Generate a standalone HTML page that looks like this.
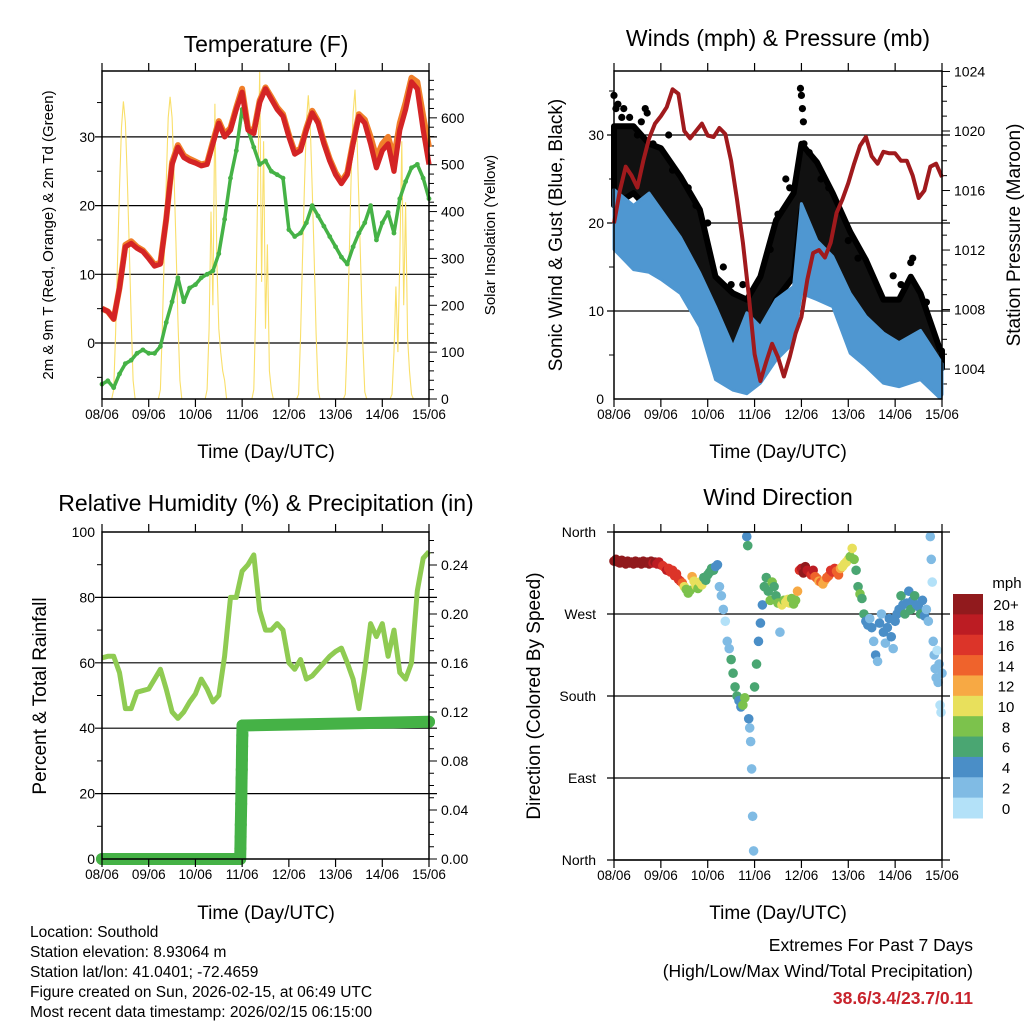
<!DOCTYPE html>
<html><head><meta charset="utf-8"><style>
html,body{margin:0;padding:0;background:#fff}
svg{display:block;font-family:"Liberation Sans",sans-serif}
</style></head><body>
<svg id="c" width="1024" height="1024" viewBox="0 0 1024 1024" xmlns="http://www.w3.org/2000/svg">
<rect width="1024" height="1024" fill="#fff"/>
<g id="g"></g>
<g font-size="23" text-anchor="middle" fill="#000">
<text x="266" y="52">Temperature (F)</text>
<text x="778" y="46">Winds (mph) &amp; Pressure (mb)</text>
<text x="266" y="511">Relative Humidity (%) &amp; Precipitation (in)</text>
<text x="778" y="505">Wind Direction</text>
</g>
<g font-size="19" text-anchor="middle">
<text x="266" y="458">Time (Day/UTC)</text>
<text x="778" y="458">Time (Day/UTC)</text>
<text x="266" y="919">Time (Day/UTC)</text>
<text x="778" y="919">Time (Day/UTC)</text>
<text font-size="15" transform="translate(53,235) rotate(-90)">2m &amp; 9m T (Red, Orange) &amp; 2m Td (Green)</text>
<text font-size="15" transform="translate(495,235) rotate(-90)">Solar Insolation (Yellow)</text>
<text transform="translate(562,235) rotate(-90)">Sonic Wind &amp; Gust (Blue, Black)</text>
<text transform="translate(1020,235) rotate(-90)">Station Pressure (Maroon)</text>
<text transform="translate(46,696) rotate(-90)">Percent &amp; Total Rainfall</text>
<text transform="translate(540,696) rotate(-90)">Direction (Colored By Speed)</text>
</g>
<g font-size="15.5">
<text x="30" y="937">Location: Southold</text>
<text x="30" y="957">Station elevation: 8.93064 m</text>
<text x="30" y="977">Station lat/lon: 41.0401; -72.4659</text>
<text x="30" y="997">Figure created on Sun, 2026-02-15, at 06:49 UTC</text>
<text x="30" y="1017">Most recent data timestamp: 2026/02/15 06:15:00</text>
</g>
<g text-anchor="end" font-size="17.5">
<text x="973" y="951">Extremes For Past 7 Days</text>
<text x="973" y="977">(High/Low/Max Wind/Total Precipitation)</text>
<text x="973" y="1004" fill="#c8232c" font-weight="bold">38.6/3.4/23.7/0.11</text>
</g>
</svg>
<script>
// ---- data ----
const dayLabels=["08/06","09/06","10/06","11/06","12/06","13/06","14/06","15/06"];
const t3=[0,3,6,9,12,15,18,21,24,27,30,33,36,39,42,45,48,51,54,57,60,63,66,69,72,75,78,81,84,87,90,93,96,99,102,105,108,111,114,117,120,123,126,129,132,135,138,141,144,147,150,153,156,159,162,165,168];
const tempRed=[5,4.6,3.5,8,14,14.5,13.8,13.3,12.3,11.2,11.5,18,26,28.5,27,26.5,26.2,25.8,26,29,32,30,31,34,36.5,31,30.5,35,37,35.5,34,33,30,27.5,28,31,33.5,32,29,26.5,24.5,23.2,24.5,29,33,32,29,25.5,28,29,25,31,34,38,37,31,26];
const tempOrange=[5,4.6,3.5,8,14.3,14.8,14,13.5,12.5,11.4,11.7,18,26.3,28.8,27.3,26.8,26.4,26,26.2,29.3,32.3,30.4,31.3,34.3,37,31.3,30.8,35.3,37.2,35.8,34.3,33.3,30.3,27.8,28.3,31.3,33.8,32.3,29.3,26.8,24.8,23.5,24.8,29.3,33.3,32.5,30,27,29,30,27,32,35,38.6,38,33,28.5];
const dewpoint=[-6,-5.5,-6.5,-4.5,-3,-2.5,-1.5,-1,-1.5,-1.5,-0.5,3,6,9.5,6,8,8.5,9.5,10,10.5,13,18,24,28,34,31,28.5,26,26.5,25,24.5,24,16.5,15.5,16,17.5,20,18.5,17,15.5,14,12.5,11.5,14,16,17.5,20,15,17.5,19,16,21,23.5,25.5,26,24,21];
const solarHourly=[0,0,0,0,0,0,20,140,300,450,580,635,590,470,320,170,40,0,0,0,0,0,0,0,
0,0,0,0,0,0,20,150,310,460,600,645,600,480,330,170,40,0,0,0,0,0,0,0,
0,0,0,0,0,0,20,150,400,200,630,300,150,100,60,40,0,0,0,0,0,0,0,0,
0,0,0,0,0,0,20,200,450,698,250,550,150,330,60,20,0,0,0,0,0,0,0,0,
0,0,0,0,0,10,130,300,450,590,648,580,450,300,140,20,0,0,0,0,0,0,0,0,
0,0,0,0,0,10,130,300,470,610,660,560,420,270,120,15,0,0,0,0,0,0,0,0,
0,0,0,0,0,10,100,240,100,300,550,200,420,130,60,10,0,0,0,0,0,0,0,0,0];
const windT=[0,10,18,24,34,44,52,61,68,75,83,92,96,104,112,121,129,138,146,157,167,168];
const windHi=[23.8,22,23.4,21.5,18.4,14.3,10.5,5.9,9.8,8.2,11.3,12.8,22.2,18,16.2,12,9.4,7.5,6.4,7.8,4.4,4];
const windLo=[17,14.7,14.4,13.6,12,8.2,2.2,1,0.6,1.8,4.4,6.4,12,11.3,10.5,5.2,3.7,1.8,1.4,2.2,0.1,0.5];
const gustT=[0,10,18,24,34,44,52,61,68,75,83,92,96,104,112,121,129,138,146,152,157,167,168];
const gustHi=[31,31,29,28.5,25.3,21.5,13.9,12,11.3,13.9,20.3,23.4,29,26.9,23.4,19,15.8,11.3,11.3,13.9,12,5.6,5.5];
const gustLo=[22,23.4,21.5,19.6,17,13.9,5.9,5.2,4.4,7.1,11.3,13.9,21.5,17.3,15.1,11.3,8.2,4.4,5.2,5.5,5.2,3.7,3.5];
const gustOutT=[0,1,2,4,5,8,12,14,16,17,20,28,30,38,42,48,56,60,66,80,84,88,90,95.5,96,96.5,97,97.3,100,106,110,120,125,143,147,152,153,160];
const gustOutV=[34.5,33,33.5,32,33,32,30,31.5,33,32.5,29,30,26,24,22,20,15,13,13,17,21,25,24,35.3,34.5,33,31.5,29,28,25,24,18,16,14,13,15.5,16,11];
const pressure=[1013.8,1016,1017.6,1017,1016.2,1018,1019.5,1020.5,1021,1021.6,1022.8,1022.5,1020,1019.5,1020,1020.5,1019.7,1019.6,1020.2,1019.8,1018,1015.4,1012.5,1009,1005,1003.2,1004.5,1005.7,1004.8,1003.5,1004.8,1006.4,1007.5,1010,1011.8,1012,1011.5,1012.5,1014.5,1015.4,1016.5,1017.8,1019,1019.6,1018.3,1017.8,1018.6,1018.5,1018.5,1018,1018,1017,1015.5,1016,1017.6,1017.8,1016.9];
const rh=[61.5,62,62,57,46,46,51,51.5,52,55,58,52,45,43,45,48,50.5,55,52,48,50,62,80,80,88,90,93,76,70,70,72,70,60,58,61,55,56,58,60,62,63.5,64.5,60,55,46,58,72,68,72,62,70,57,55,60,82,92,94];
const precipT=[0,71,71.1,71.2,71.3,71.4,71.5,71.6,71.7,71.8,71.9,72,72.1,72.2,168];
const precipV=[0,0,0.0087,0.018,0.028,0.036,0.045,0.055,0.066,0.073,0.081,0.092,0.101,0.109,0.112];
const dirT=[0,1,2,3,4,5,6,7,8,9,10,11,12,13,14,15,16,17,18,19,20,21,22,23,24,25,26,27,28,29,30,31,32,33,34,35,36,37,38,39,40,41,42,43,44,45,46,47,48,49,50,51,52,53,54,55,56,57,58,59,60,61,62,63,64,65,66,67,68,68.5,69,69.5,70,70.5,71,71.5,72,73,74,75,76,77,78,79,80,81,82,83,84,85,86,87,88,89,90,91,92,93,94,95,96,97,98,99,100,101,102,103,104,105,106,107,108,109,110,111,112,113,114,115,116,117,118,119,120,121,122,123,124,125,126,127,128,129,130,131,132,133,134,135,136,137,138,139,140,141,142,143,144,145,146,147,148,149,150,151,152,153,154,155,156,157,158,159,160,161,162,162.5,163,163.5,164,164.5,165,165.5,166,166.5,167,167.5,168];
const dirDeg=[328,330,327,326,329,327,325,328,326,327,325,328,326,327,325,328,326,327,325,328,326,327,325,327,324,323,321,318,320,316,318,312,314,308,306,304,300,297,293,296,311,306,301,298,305,302,310,307,313,316,320,318,322,324,300,290,275,262,240,232,220,205,190,180,175,168,170,178,355,345,155,145,130,100,48,10,190,215,240,260,280,300,310,295,285,305,300,290,282,250,280,285,283,286,282,287,281,285,295,318,320,315,322,318,316,313,318,311,309,306,305,303,307,310,312,318,316,320,317,313,320,322,325,327,330,333,342,330,318,300,292,287,270,262,258,265,255,240,225,218,260,270,250,238,255,265,245,232,262,270,275,290,280,270,282,295,275,285,290,280,278,270,285,268,275,262,355,330,305,240,225,210,200,230,195,215,170,162,205];
const dirSpd=[22,21,22,21,22,20,21,22,21,20,22,21,20,21,22,20,21,20,21,20,19,20,18,18,18,17,17,18,16,17,16,17,16,17,16,15,10,9,8,9,13,10,11,8,10,11,7,6,6,6,6,6,5,4,3,2,2,1,2,2,6,6,7,7,5,4,8,9,5,7,4,3,3,2,2,3,6,7,4,4,5,6,6,7,8,8,6,7,8,3,10,9,10,11,10,9,8,9,12,17,19,20,20,19,18,17,18,15,14,13,14,13,12,14,15,16,17,16,15,14,12,11,10,10,10,9,10,8,7,6,8,6,6,5,4,3,4,3,4,3,4,3,4,3,4,4,4,3,4,5,4,6,4,7,4,5,6,4,6,4,5,6,4,4,3,2,2,2,1,3,2,2,2,1,2,2,0,0,2];
const speedBins=["0","2","4","6","8","10","12","14","16","18","20+"];
const speedColors=["#b3e1f8","#80bbe4","#4a8ec7","#4aa672","#7cc24c","#e8e05c","#f7a944","#ef632c","#dc3429","#bc1c23","#911a1d"];

// ---- helpers ----
const NS="http://www.w3.org/2000/svg";
const G=document.getElementById('g');
function mk(tag,attrs,parent){const e=document.createElementNS(NS,tag);for(const k in attrs)e.setAttribute(k,attrs[k]);(parent||G).appendChild(e);return e;}
function txt(x,y,s,anchor,size,parent){const e=mk('text',{x:x,y:y,'text-anchor':anchor,'font-size':size},parent);e.textContent=s;return e;}
function pts(xs,ys,fx,fy){return xs.map((t,i)=>fx(t).toFixed(1)+','+fy(ys[i]).toFixed(1)).join(' ');}

function panel(name){
  const g=mk('g',{});
  
  
  return g;
}
function frame(g,L,R,T,B){
  mk('rect',{x:L,y:T,width:R-L,height:B-T,fill:'none',stroke:'#000','stroke-width':1.5},g);
  const xs=h=>L+h*(R-L)/168;
  for(let d=0;d<8;d++){const x=xs(d*24);
    mk('line',{x1:x,y1:T,x2:x,y2:T-8,stroke:'#000','stroke-width':1.2},g);
    mk('line',{x1:x,y1:B,x2:x,y2:B+8,stroke:'#000','stroke-width':1.2},g);
    const lab=txt(x,B+20,dayLabels[d],'middle',13.5,g);
    
    
  }
}
function gridline(g,L,R,y){mk('line',{x1:L-7,y1:y,x2:R+8,y2:y,stroke:'#000','stroke-width':1.2},g);}

// ===== Temperature panel =====
{
 const L=102,R=429,T=71,B=399;
 const g=panel('temperature-panel');
 const x=h=>L+h*(R-L)/168, y=v=>343-v*6.87, ys=v=>B-v*0.4686;
 [0,10,20,30].forEach(v=>{gridline(g,L,R,y(v));const l=txt(L-7,y(v)+5,String(v),'end',14,g);});
 [-5,5,15,25,35].forEach(v=>mk('line',{x1:L,y1:y(v),x2:L-5,y2:y(v),stroke:'#000'},g));
 for(let v=0;v<=700;v+=20){const yy=ys(v);if(yy<T)break;mk('line',{x1:R,y1:yy,x2:R+(v%100==0?8:5),y2:yy,stroke:'#000'},g);}
 [0,100,200,300,400,500,600].forEach(v=>{const l=txt(R+12,ys(v)+5,String(v),'start',14,g);});
 const sx=solarHourly.map((v,i)=>i);
 const sol=mk('polyline',{points:pts(sx,solarHourly,x,ys),fill:'none',stroke:'#f9df6a','stroke-width':1.1},g);
 
 const dp=mk('polyline',{points:pts(t3,dewpoint,x,y),fill:'none',stroke:'#45b246','stroke-width':3.5,'stroke-linejoin':'round'},g);
 
 t3.forEach((t,i)=>{const c=mk('circle',{cx:x(t),cy:y(dewpoint[i]),r:2.4,fill:'#45b246'},g);});
 const o=mk('polyline',{points:pts(t3,tempOrange,x,y),fill:'none',stroke:'#f07f2a','stroke-width':6,'stroke-linejoin':'round'},g);
 
 const r=mk('polyline',{points:pts(t3,tempRed,x,y),fill:'none',stroke:'#d42425','stroke-width':5.2,'stroke-linejoin':'round'},g);
 
 frame(g,L,R,T,B);
}
// ===== Wind panel =====
{
 const L=614,R=942,T=71,B=399;
 const g=panel('wind-panel');
 const x=h=>L+h*(R-L)/168, y=v=>B-v*8.8, yp=p=>131+(1020-p)*14.88;
 [0,10,20,30].forEach(v=>{if(v>0)gridline(g,L,R,y(v));const l=txt(L-10,y(v)+5,String(v),'end',14,g);});
 [5,15,25,35].forEach(v=>mk('line',{x1:L,y1:y(v),x2:L-5,y2:y(v),stroke:'#000'},g));
 for(let p=1003;p<=1024;p++){mk('line',{x1:R,y1:yp(p),x2:R+(p%4==0?8:5),y2:yp(p),stroke:'#000'},g);}
 [1004,1008,1012,1016,1020,1024].forEach(p=>{const l=txt(R+12,yp(p)+5,String(p),'start',14,g);});
 const gp=gustT.map((t,i)=>x(t).toFixed(1)+','+y(gustHi[i]).toFixed(1)).concat(gustT.slice().reverse().map((t,k)=>{const i=gustT.length-1-k;return x(t).toFixed(1)+','+y(gustLo[i]).toFixed(1);})).join(' ');
 const gb=mk('polygon',{points:gp,fill:'#111','stroke':'#000','stroke-width':6,'stroke-linejoin':'round'},g);
 
 gustOutT.forEach((t,i)=>{const c=mk('circle',{cx:x(t),cy:y(gustOutV[i]),r:3.6,fill:'#000'},g);});
 const wp=windT.map((t,i)=>x(t).toFixed(1)+','+y(windHi[i]).toFixed(1)).concat(windT.slice().reverse().map((t,k)=>{const i=windT.length-1-k;return x(t).toFixed(1)+','+y(windLo[i]).toFixed(1);})).join(' ');
 const wb=mk('polygon',{points:wp,fill:'#4f97d1',stroke:'#4f97d1','stroke-width':3,'stroke-linejoin':'round'},g);
 
 const pl=mk('polyline',{points:pts(t3,pressure,x,yp),fill:'none',stroke:'#a01a1d','stroke-width':4,'stroke-linejoin':'round'},g);
 
 frame(g,L,R,T,B);
}
// ===== RH panel =====
{
 const L=102,R=429,T=532,B=859;
 const g=panel('humidity-panel');
 const x=h=>L+h*(R-L)/168, y=v=>B-v*3.27, yq=v=>B-v*1225;
 [0,20,40,60,80,100].forEach(v=>{if(v>0&&v<100)gridline(g,L,R,y(v));const l=txt(L-7,y(v)+5,String(v),'end',14,g);});
 [10,30,50,70,90].forEach(v=>mk('line',{x1:L,y1:y(v),x2:L-5,y2:y(v),stroke:'#000'},g));
 for(let k=0;k<=26;k++){const v=k/100;mk('line',{x1:R,y1:yq(v),x2:R+(k%4==0?8:5),y2:yq(v),stroke:'#000'},g);}
 [0,0.04,0.08,0.12,0.16,0.2,0.24].forEach(v=>{const l=txt(R+12,yq(v)+5,v.toFixed(2),'start',14,g);});
 const rl=mk('polyline',{points:pts(t3,rh,x,y),fill:'none',stroke:'#8fcb52','stroke-width':5,'stroke-linejoin':'round'},g);
 
 const pq=mk('polyline',{points:pts(precipT,precipV,x,yq),fill:'none',stroke:'#45b246','stroke-width':12,'stroke-linecap':'round','stroke-linejoin':'round'},g);
 
 precipT.forEach((t,i)=>{const c=mk('circle',{cx:x(t),cy:yq(precipV[i]),r:6,fill:'#45b246'},g);});
 frame(g,L,R,T,B);
}
// ===== Direction panel =====
{
 const L=614,R=942,T=532,B=860;
 const g=panel('direction-panel');
 const x=h=>L+h*(R-L)/168, y=d=>B-d*(B-T)/360;
 const names=["North","East","South","West","North"];
 [0,90,180,270,360].forEach((d,i)=>{gridline(g,L,R,y(d));const l=txt(L-18,y(d)+5,names[i],'end',14,g);});
 dirT.forEach((t,i)=>{const b=Math.min(10,Math.floor(dirSpd[i]/2));
   const c=mk('circle',{cx:x(t),cy:y(dirDeg[i]),r:4.8,fill:speedColors[b]},g);
   });
 frame(g,L,R,T,B);
 const cb=mk('g',{});
 
 
 const top=594,h=(818-594)/11;
 speedBins.forEach((s,k)=>{const i=10-k;
   const r=mk('rect',{x:953,y:top+k*h,width:30,height:h+0.5,fill:speedColors[i]},cb);
   
   const l=txt(1006,top+k*h+h/2+6,speedBins[i],'middle',15,cb);});
 const u=txt(1007,588,'mph','middle',15,cb);
}
</script>
</body></html>
